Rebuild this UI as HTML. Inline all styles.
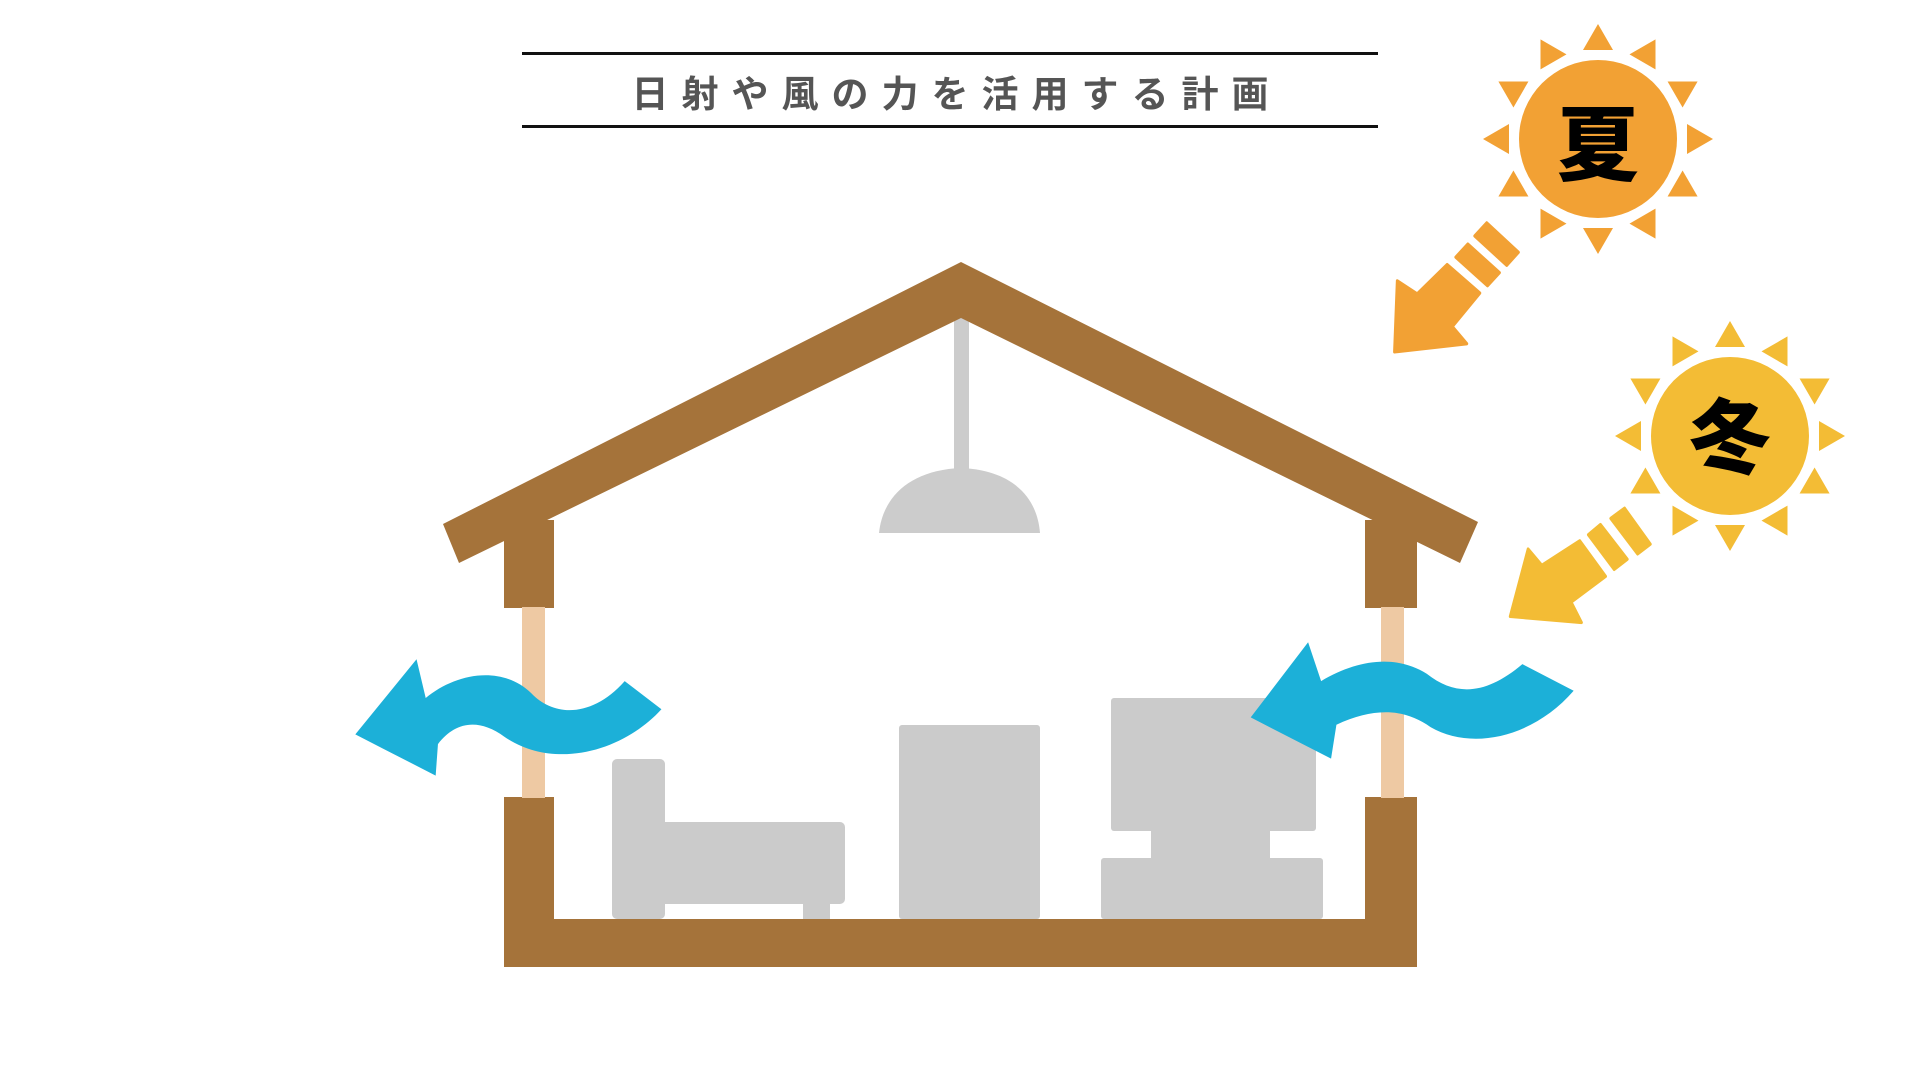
<!DOCTYPE html>
<html><head><meta charset="utf-8"><style>
html,body{margin:0;padding:0;background:#fff;}
body{width:1920px;height:1080px;overflow:hidden;position:relative;}
svg{position:absolute;left:0;top:0;}
.t{position:absolute;left:522px;width:856px;top:72px;text-align:center;font-family:"Liberation Sans","Noto Sans CJK JP",sans-serif;font-weight:bold;font-size:37px;letter-spacing:13px;color:#555;line-height:46px;text-indent:13px;}
.s{position:absolute;font-family:"Liberation Sans","Noto Sans CJK JP",sans-serif;font-weight:900;font-size:82px;color:#000;line-height:82px;width:120px;text-align:center;}
</style></head><body>
<svg width="1920" height="1080" viewBox="0 0 1920 1080">
<defs>
<g id="rays">
<polygon points="-15,-89 15,-89 0,-115" transform="rotate(0)"/>
<polygon points="-15,-89 15,-89 0,-115" transform="rotate(30)"/>
<polygon points="-15,-89 15,-89 0,-115" transform="rotate(60)"/>
<polygon points="-15,-89 15,-89 0,-115" transform="rotate(90)"/>
<polygon points="-15,-89 15,-89 0,-115" transform="rotate(120)"/>
<polygon points="-15,-89 15,-89 0,-115" transform="rotate(150)"/>
<polygon points="-15,-89 15,-89 0,-115" transform="rotate(180)"/>
<polygon points="-15,-89 15,-89 0,-115" transform="rotate(210)"/>
<polygon points="-15,-89 15,-89 0,-115" transform="rotate(240)"/>
<polygon points="-15,-89 15,-89 0,-115" transform="rotate(270)"/>
<polygon points="-15,-89 15,-89 0,-115" transform="rotate(300)"/>
<polygon points="-15,-89 15,-89 0,-115" transform="rotate(330)"/>
<circle r="79"/>
</g>
</defs>
<rect x="522" y="52" width="856" height="3" fill="#111"/>
<rect x="522" y="125" width="856" height="3" fill="#111"/>
<g fill="#f2a134" transform="translate(1598,139)"><use href="#rays"/></g>
<g fill="#f3bc35" transform="translate(1730,436)"><use href="#rays"/></g>
<g transform="translate(1380,0) scale(0.3444,0.4082)">
<g fill="#f2a134" stroke="#f2a134" stroke-width="8" stroke-linejoin="round">
<polygon points="50,688 108,720 195,648 290,718 210,800 252,842 42,862"/>
<polygon points="220,630 255,598 347,668 312,700"/>
<polygon points="275,578 310,546 402,618 368,650"/>
</g>
<g fill="#f3bc35" stroke="#f3bc35" stroke-width="8" stroke-linejoin="round">
<polygon points="430,1345 470,1385 580,1325 655,1412 555,1475 585,1525 378,1510"/>
<polygon points="605,1310 640,1285 718,1370 680,1395"/>
<polygon points="670,1270 710,1245 785,1333 748,1357"/>
</g>
</g>
<rect x="954" y="312" width="15" height="160" fill="#cccccc"/>
<path d="M879,533 C883,495 912,470 961,468 C1010,470 1037,495 1040,533 Z" fill="#cccccc"/>
<g fill="#cbcbcb">
<rect x="612" y="759" width="53" height="160" rx="5"/>
<rect x="612" y="822" width="233" height="82" rx="5"/>
<rect x="627" y="900" width="27" height="19"/>
<rect x="803" y="900" width="27" height="19"/>
<rect x="899" y="725" width="141" height="194" rx="3"/>
<rect x="1111" y="698" width="205" height="133" rx="3"/>
<rect x="1151" y="828" width="119" height="34"/>
<rect x="1101" y="858" width="222" height="61" rx="3"/>
</g>
<g fill="#a5733a">
<polygon points="443,524 961,262 1478,522 1460,563 961,318 459,563"/>
<rect x="504" y="520" width="50" height="88"/>
<rect x="1365" y="520" width="52" height="88"/>
<rect x="504" y="797" width="50" height="170"/>
<rect x="1365" y="797" width="52" height="170"/>
<rect x="504" y="919" width="913" height="48"/>
</g>
<g fill="#eec9a3">
<rect x="522" y="607" width="23" height="191"/>
<rect x="1381" y="607" width="23" height="191"/>
</g>
<g transform="translate(340,240) scale(0.7653,0.4847)" fill="#1cb0d8">
<path d="M20,1020 L100,865 L112,945 C150,895 210,875 250,935 C280,985 330,985 372,910 L420,968 C370,1055 280,1095 215,1025 C180,985 150,995 128,1040 L125,1105 Z"/>
<path d="M1190,985 L1265,830 L1282,910 C1330,865 1380,855 1420,895 C1460,945 1500,935 1545,875 L1612,930 C1560,1025 1480,1055 1425,1005 C1390,965 1350,965 1302,1000 L1295,1070 Z"/>
</g>
</svg>
<div class="t">日射や風の力を活用する計画</div>
<div class="s" style="left:1538px;top:106px;">夏</div>
<div class="s" style="left:1670px;top:399px;">冬</div>
</body></html>
